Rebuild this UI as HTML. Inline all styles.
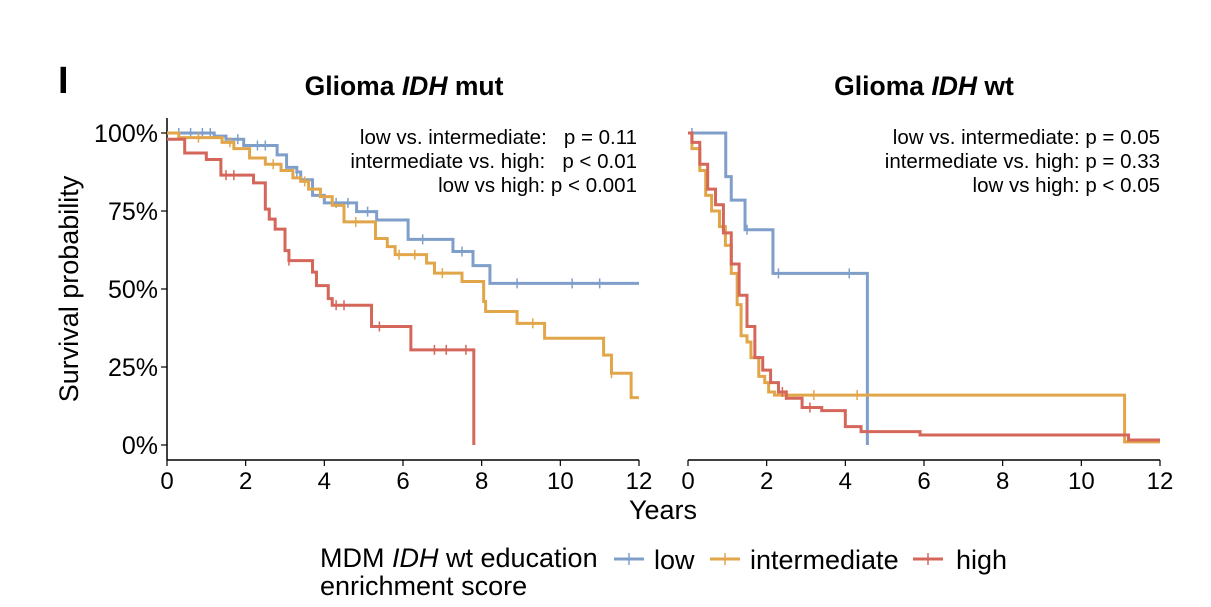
<!DOCTYPE html>
<html><head><meta charset="utf-8">
<style>
body{margin:0;background:#fff;width:1211px;height:602px;overflow:hidden;font-family:"Liberation Sans",Arial,sans-serif;}
svg text{font-family:"Liberation Sans",Arial,sans-serif;}
</style></head>
<body>
<svg id="chart" width="1211" height="602">
<text x="58" y="93" font-size="38" font-weight="bold">I</text>
<text x="404" y="95" font-size="26.5" font-weight="bold" text-anchor="middle">Glioma <tspan font-style="italic">IDH</tspan> mut</text>
<text x="924" y="95" font-size="26.5" font-weight="bold" text-anchor="middle">Glioma <tspan font-style="italic">IDH</tspan> wt</text>
<text transform="translate(78,289) rotate(-90)" font-size="27" text-anchor="middle">Survival probability</text>
<text x="663" y="519" font-size="27" text-anchor="middle">Years</text>
<g font-size="20.5" text-anchor="end" xml:space="preserve">
<text x="637" y="144" xml:space="preserve">low vs. intermediate:   p = 0.11</text>
<text x="637" y="168" xml:space="preserve">intermediate vs. high:   p &lt; 0.01</text>
<text x="637" y="192">low vs high: p &lt; 0.001</text>
</g>
<g font-size="20.5" text-anchor="end">
<text x="1160" y="144">low vs. intermediate: p = 0.05</text>
<text x="1160" y="168">intermediate vs. high: p = 0.33</text>
<text x="1160" y="192">low vs high: p &lt; 0.05</text>
</g>
<g>
<text x="320" y="567" font-size="27">MDM <tspan font-style="italic">IDH</tspan> wt education</text>
<text x="320" y="595" font-size="27">enrichment score</text>
<g><line x1="614" y1="559" x2="644" y2="559" stroke="#7f9fca" stroke-width="3"/><line x1="629" y1="553" x2="629" y2="565" stroke="#7f9fca" stroke-width="1.5"/><text x="654" y="569" font-size="27">low</text></g>
<g><line x1="710" y1="559" x2="740" y2="559" stroke="#e2a64a" stroke-width="3"/><line x1="725" y1="553" x2="725" y2="565" stroke="#e2a64a" stroke-width="1.5"/><text x="750" y="569" font-size="27">intermediate</text></g>
<g><line x1="913" y1="559" x2="943" y2="559" stroke="#d4665a" stroke-width="3"/><line x1="928" y1="553" x2="928" y2="565" stroke="#d4665a" stroke-width="1.5"/><text x="956" y="569" font-size="27">high</text></g>
</g>
</svg>
<script>
const xTicks=[0,2,4,6,8,10,12];
const yTicks=[0,25,50,75,100];
const yTickLabels=["0%","25%","50%","75%","100%"];
// Left panel (IDH mut)
const mutLowT=[0,1.2,1.5,1.95,2.8,3.04,3.3,3.4,3.7,4.0,4.82,5.33,6.13,7.27,7.78,8.21,12];
const mutLowS=[100,99,98,96,93,89,87.5,85,80,77.6,74.8,72.1,65.9,62,57.5,51.8,51.8];
const mutIntT=[0,0.3,1.4,1.7,2.1,2.5,2.9,3.2,3.4,3.6,3.9,4.2,4.5,5.3,5.6,5.8,6.6,6.8,7.5,8.05,8.1,8.9,9.6,11.1,11.3,11.8,12];
const mutIntS=[100,98.5,97,95,92,90,88,85.6,84.5,82,79.6,76.8,71.5,66.2,63.6,61,58.3,55.1,52.4,46,42.8,39,34.2,28.8,23,15.2,15.2];
const mutHighT=[0,0.45,1.0,1.37,2.2,2.5,2.6,2.75,3.0,3.1,3.7,3.8,4.1,4.2,5.2,6.2,7.8,7.8];
const mutHighS=[98,93.6,91.5,86.5,84,75.6,72.4,69.2,62.3,59.1,55.4,51.1,46.9,44.8,38,30.5,30.5,0];
const mutLowCens=[0.3,0.6,0.9,1.1,1.8,2.3,2.5,3.3,4.3,4.6,5.1,6.5,7.5,8.9,10.3,11.0];
const mutIntCens=[0.8,1.6,2.7,3.5,4.8,5.9,6.3,7.0,9.3,11.3];
const mutHighCens=[1.5,1.7,3.1,4.3,4.5,5.4,6.8,7.1,7.6];
// Right panel (IDH wt)
const wtLowT=[0,0.96,1.1,1.45,2.16,4.56,4.56];
const wtLowS=[100,86,78.5,69,55,55,0];
const wtLowCens=[0.1,1.5,2.3,4.1];
const wtIntT=[0,0.1,0.3,0.45,0.6,0.8,0.95,1.1,1.25,1.35,1.5,1.6,1.8,1.95,2.05,2.2,11.1,11.1,12];
const wtIntS=[100,95,88,80,75,70,64,55,45,35,33,28,22,20,17,16,16,1,1];
const wtIntCens=[2.5,3.2,4.3];
const wtHighT=[0,0.1,0.3,0.5,0.7,0.9,1.1,1.3,1.5,1.7,1.9,2.1,2.3,2.5,2.9,3.4,4.0,4.4,5.9,11.2,12];
const wtHighS=[100,97,90,82,77,68,58,48,38,28,24,20,17,15,12,11,5.9,4.3,3.2,1.6,1.6];
const wtHighCens=[2.4,3.1];

const svg=document.getElementById('chart');
const NS='http://www.w3.org/2000/svg';
const Y0=445,Y100=133;
function yS(v){return Y0-(Y0-Y100)*v/100;}
function mk(tag,attrs){const e=document.createElementNS(NS,tag);for(const k in attrs)e.setAttribute(k,attrs[k]);svg.appendChild(e);return e;}
function stepAt(T,S,t){let v=S[0];for(let i=0;i<T.length;i++){if(T[i]<=t)v=S[i];}return v;}
function panel(x0,name,series){
  const xS=t=>x0+t*(472/12);
  const ax=mk('line',{x1:x0,y1:460,x2:x0+472,y2:460,stroke:'#000','stroke-width':1.5});
  
  
  xTicks.forEach(t=>{
    mk('line',{x1:xS(t),y1:460,x2:xS(t),y2:466,stroke:'#000','stroke-width':1.2});
    const tx=mk('text',{x:xS(t),y:489,'font-size':24,'text-anchor':'middle'});
    tx.textContent=t;
    
    
  });
  series.forEach(s=>{
    let d='M'+xS(s.T[0])+','+yS(s.S[0]);
    for(let i=1;i<s.T.length;i++){d+=' H'+xS(s.T[i])+' V'+yS(s.S[i]);}
    const p=mk('path',{d:d,fill:'none',stroke:s.c,'stroke-width':3,'stroke-linejoin':'miter'});
    
    
    s.C.forEach(t=>{
      const y=yS(stepAt(s.T,s.S,t));
      const c=mk('line',{x1:xS(t),y1:y-5,x2:xS(t),y2:y+5,stroke:s.c,'stroke-width':1.5});
      
      
    });
  });
}
const yax=mk('line',{x1:167,y1:118,x2:167,y2:460,stroke:'#000','stroke-width':1.5});


yTicks.forEach((v,i)=>{
  mk('line',{x1:161,y1:yS(v),x2:167,y2:yS(v),stroke:'#000','stroke-width':1.2});
  const tx=mk('text',{x:158,y:yS(v)+9,'font-size':25,'text-anchor':'end'});
  tx.textContent=yTickLabels[i];
  
  
});
panel(167,'mut',[
 {n:'low',T:mutLowT,S:mutLowS,C:mutLowCens,c:'#7f9fca'},
 {n:'intermediate',T:mutIntT,S:mutIntS,C:mutIntCens,c:'#e2a64a'},
 {n:'high',T:mutHighT,S:mutHighS,C:mutHighCens,c:'#d4665a'}]);
panel(688,'wt',[
 {n:'low',T:wtLowT,S:wtLowS,C:wtLowCens,c:'#7f9fca'},
 {n:'intermediate',T:wtIntT,S:wtIntS,C:wtIntCens,c:'#e2a64a'},
 {n:'high',T:wtHighT,S:wtHighS,C:wtHighCens,c:'#d4665a'}]);
</script>
</body></html>
